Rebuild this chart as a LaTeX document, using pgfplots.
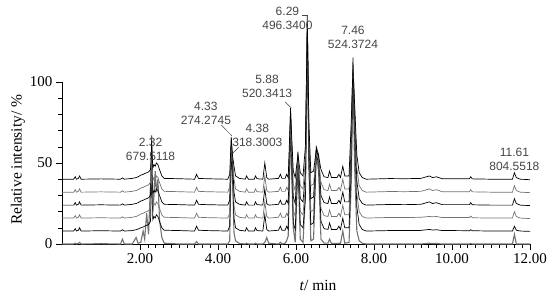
\documentclass[border=0pt]{standalone}
\usepackage{fontspec}
\setmainfont{Liberation Serif}
\newfontfamily\annfont{Liberation Sans}
\usepackage{pgfplots}
\usepackage{pgfplotstable}
\pgfplotsset{compat=1.18}
\definecolor{trgray}{RGB}{115,115,115}
\definecolor{anngray}{RGB}{70,70,70}
\pgfplotstableread{
t a b c d e f
0.00 0 8 16 24 32 40
0.30 0 8 16 24 32 40
0.34 0.5 9.5 17.5 25.5 33.5 41.5
0.37 0 8 16 24 32 40
0.42 0.3 8.5 16.5 24.5 32.5 40.5
0.45 1 10 18 26 34 42
0.49 0 8 16 24 32 40
1.00 0.2 8.2 16.2 24.2 32.2 40.2
1.50 0 8 16 24 32 40
1.55 3 8.8 16.8 24.8 32.8 40.8
1.60 0 8 16 24 32 40
1.80 0 8.3 16.5 24.5 32.5 40.5
1.90 4 8.8 17 25 33 41
1.95 0.5 9.2 17.5 25.5 33.5 41.5
2.02 1 10 18.5 26.5 34.5 42.5
2.08 8 10.5 19 27 35 43
2.12 3 11 19.5 27.5 35.5 43.5
2.17 19 11.5 20 28 36 44
2.22 6 12 20.5 28.5 36.5 44.5
2.27 38 14 22 30 38 46
2.30 52 45 50 67 55 60
2.33 20 15 23 31 39 47
2.36 30 17 25 33 41 49
2.39 45 16 24 32 40 48
2.42 32 18 26 34 42 50
2.46 40 17 25 33 41 49
2.50 15 14 22 30 38 46
2.56 4 10 18 26 34 42
2.62 0.5 8.5 16.5 24.5 32.5 40.5
3.00 0 8.3 16.3 24.3 32.3 40.3
3.40 0 8 16 24 32 40
3.45 1.5 11 19 27 35 43
3.50 0 8.5 16.5 24.5 32.5 40.5
3.70 0 8.3 16.3 24.3 32.3 40.3
4.25 0 8 16 24 32 40
4.30 2 11 19 27 35 43
4.34 60 55 60 65 62 66
4.37 45 45 50 52 55 55
4.41 7 16 24 32 40 48
4.45 2 10 18 26 34 42
4.55 0.3 8.5 16.5 24.5 32.5 40.5
4.70 0 8 16 24 32 40
4.73 0.5 10 18 26 34 42
4.78 0 8 16 24 32 40
4.93 0 8 16 24 32 40
4.96 0.5 10 18 26 34 42
5.00 0 8.3 16.3 24.3 32.3 40.3
5.15 0 8 16 24 32 40
5.20 1 18 26 34 42 50
5.25 4 9 17 25 33 41
5.30 0.5 8 16 24 32 40
5.55 0 8.5 16.5 24.5 32.5 40.5
5.60 1 11 19 27 35 43
5.64 0 8.5 16.5 24.5 32.5 40.5
5.72 0.5 8.5 16.5 24.5 32.5 40.5
5.76 2 11 19 27 35 43
5.80 5 9 17 25 33 41
5.86 70 75 78 84 80 82
5.93 10 13 21 29 37 45
5.98 1 9 17 25 33 41
6.05 50 50 52 57 54 55
6.11 3 12 20 28 36 44
6.18 1 10 18 26 34 42
6.24 30 28 36 44 52 60
6.29 125 130 135 141 138 136
6.33 50 50 58 66 70 75
6.38 2 12 20 28 36 44
6.45 3 13 21 29 37 45
6.52 55 55 58 60 56 58
6.58 45 50 52 55 52 54
6.64 3 14 22 30 38 46
6.72 0.5 9.5 17.5 25.5 33.5 41.5
6.82 0.5 9 17 25 33 41
6.86 3 13 21 29 37 45
6.91 0.3 9 17 25 33 41
7.05 0.3 9 17 25 33 41
7.10 0.5 11 19 27 35 43
7.14 0.3 9 17 25 33 41
7.20 8 16 24 32 40 48
7.25 0.5 10 18 26 34 42
7.36 1 10 18 26 34 42
7.42 40 50 58 66 72 78
7.46 110 105 110 115 112 108
7.50 50 70 76 82 86 88
7.56 8 23 31 39 47 55
7.62 2 12 20 28 36 44
7.70 0.5 9 17 25 33 41
7.80 0 8 16 24 32 40
8.40 0 8.3 16.4 24.4 32.4 40.4
8.80 0 8.3 16.3 24.3 32.3 40.3
9.20 0 8.4 16.5 24.5 32.5 40.5
9.42 0.5 9 17 26 34 42
9.50 0.3 8.6 16.8 25 33 41
9.60 0.3 8.8 17 25.5 33.5 41.5
9.75 0 8.3 16.3 24.3 32.3 40.3
10.00 0 8.3 16.3 24.3 32.3 40.3
10.45 0 8.2 16.3 24.3 32.3 40.3
10.48 0.3 8.8 17.2 25.5 33.5 41.5
10.52 0 8.2 16.2 24.2 32.2 40.2
11.00 0 8 16 24 32 40
11.55 0 8 16 24 32 40
11.60 6 11 20 28 36 44
11.65 0 8.5 17 25 33 41
11.75 0 8 16 24 32 40
12.00 0 7.8 15.7 23.7 31.7 39.7
}\chrom
\begin{document}
\begin{tikzpicture}
\begin{axis}[
  name=ax,
  scale only axis,
  width=468pt, height=162pt,
  xmin=0, xmax=12, ymin=0, ymax=100,
  clip=false,
  axis lines=left,
  axis line style={-, line width=0.8pt},
  tick align=outside,
  major tick length=6pt,
  minor tick length=3.5pt,
  tick style={black, line width=0.6pt},
  xtick={2,4,6,8,10,12},
  ytick={0,50,100},
  minor x tick num=9,
  minor y tick num=4,
  xticklabel style={/pgf/number format/.cd, fixed, fixed zerofill, precision=2},
  /pgf/number format/assume math mode=true,
  tick label style={font=\fontsize{15}{18}\selectfont},
  xlabel={\textit{t}/ min},
  ylabel={Relative intensity/ \%},
  label style={font=\fontsize{15.5}{18}\selectfont},
  xlabel style={at={(axis description cs:0.547,0)}, anchor=base, yshift=-46pt},
  ylabel style={at={(axis description cs:0,0.52)}, anchor=center, yshift=44pt},
]
\addplot[trgray, line width=1.1pt] table[x=t, y=a] {\chrom};
\addplot[black, line width=0.7pt] table[x=t, y=b] {\chrom};
\addplot[trgray, line width=0.7pt] table[x=t, y=c] {\chrom};
\addplot[black, line width=0.7pt] table[x=t, y=d] {\chrom};
\addplot[trgray, line width=0.7pt] table[x=t, y=e] {\chrom};
\addplot[black, line width=0.7pt] table[x=t, y=f] {\chrom};
\tikzset{ann/.style={anngray, align=center, font=\annfont\fontsize{12}{14}\selectfont, inner sep=0pt}}
\node[ann] at (axis cs:2.27,58.6) {2.32\\679.5118};
\node[ann] at (axis cs:3.69,80.5) {4.33\\274.2745};
\node[ann] at (axis cs:5.01,67) {4.38\\318.3003};
\node[ann] at (axis cs:5.26,97) {5.88\\520.3413};
\node[ann] at (axis cs:5.78,139) {6.29\\496.3400};
\node[ann] at (axis cs:7.46,127.5) {7.46\\524.3724};
\node[ann] at (axis cs:11.6,52.5) {11.61\\804.5518};
\draw[anngray, line width=0.5pt] (axis cs:4.08,73.5) -- (axis cs:4.36,66.7);
\draw[anngray, line width=0.5pt] (axis cs:4.38,56) -- (axis cs:4.54,60);
\draw[anngray, line width=0.5pt] (axis cs:5.72,87.7) -- (axis cs:5.88,84);
\draw[anngray, line width=0.5pt] (axis cs:6.15,141.4) -- (axis cs:6.31,141.4);
\end{axis}
\pgfresetboundingbox
\path ([shift={(-62pt,-57pt)}]ax.south west) rectangle ([shift={(492pt,244pt)}]ax.south west);
\end{tikzpicture}
\end{document}
